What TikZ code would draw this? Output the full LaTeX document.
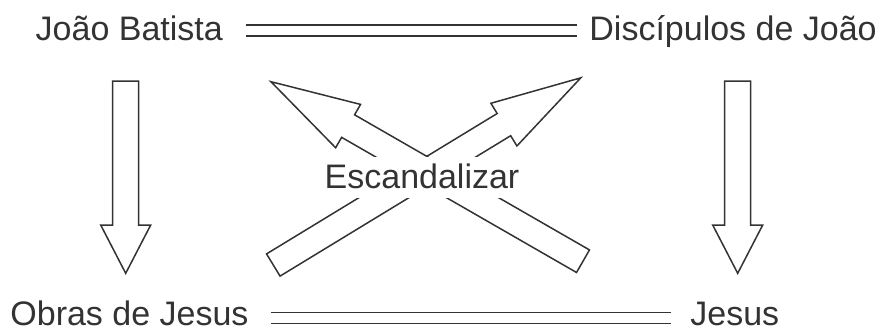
\documentclass[tikz,border=0pt]{standalone}
\usepackage{fontspec}
\setmainfont{Liberation Sans}
\usetikzlibrary{calc}
\definecolor{ink}{HTML}{333333}
\tikzset{
  word/.style={inner sep=0pt,anchor=base west,text=ink,font=\fontsize{17}{20}\selectfont},
  eqline/.style={draw=ink,line width=0.8pt,double=white,double distance=4.7pt},
  arrowline/.style={draw=ink,fill=white,line width=0.75pt},
  pics/fatarrow/.style args={#1/#2}{code={
    \filldraw[arrowline] (0,-13) -- ({#1-#2},-13) -- ({#1-#2},-25) -- (#1,0) -- ({#1-#2},25) -- ({#1-#2},13) -- (0,13) -- cycle;
  }}
}

\begin{document}
\begin{tikzpicture}[x=0.5pt,y=0.5pt]
        \useasboundingbox (0,0) rectangle (884,329);
        % names
        \node[word] (jb) at (35.3,288.3) {João Batista};
        \node[word] (dj) at (589,288.3) {Discípulos de João};
        \node[word] (oj) at (10,4) {Obras de Jesus};
        \node[word] (je) at (690,4) {Jesus};
        % equal lines
        \draw[eqline] ($(jb.base east)+(22.5,10.2)$) -- ($(dj.base west)+(-11.7,10.2)$);
        \draw[eqline] ($(oj.base east)+(22,7.2)$) -- ($(je.base west)+(-19.3,7.2)$);
        % arrows
        \pic[rotate=-90] at (125.7,248) {fatarrow=192.3/48.3};
        \pic[rotate=-90] at (737.7,248) {fatarrow=192.3/48.3};
        \pic[rotate=31.33] at (273.3,64) {fatarrow=360/90};
        \pic[rotate=150.09] at (583,67.8) {fatarrow=360/89};
        % middle word
        \node[word,anchor=base,fill=white,text height=15.5pt,text depth=5pt] (esc) at (422,141) {Escandalizar};
\end{tikzpicture}
\end{document}
